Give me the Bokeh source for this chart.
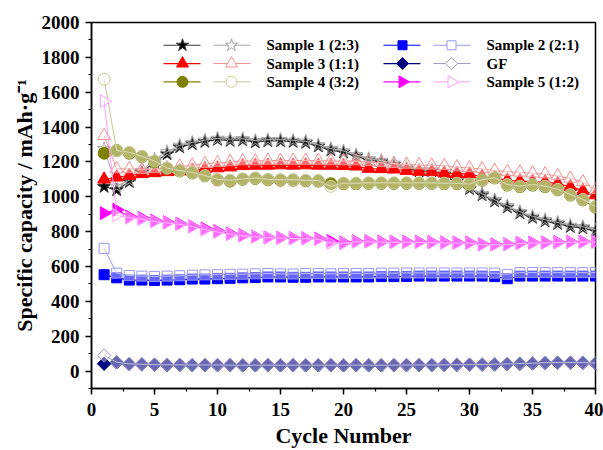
import math
from bokeh.plotting import figure
from bokeh.models import Range1d, SingleIntervalTicker, Label
from bokeh.embed import file_html
from bokeh.resources import INLINE

# ---------------- data ----------------
cycles = list(range(1, 41))

s1_filled = [1058, 1039, 1086, 1140, 1200, 1245, 1285, 1303, 1316, 1328,
             1322, 1325, 1313, 1320, 1320, 1316, 1310, 1290, 1268, 1255,
             1233, 1210, 1200, 1184, 1162, 1148, 1148, 1127, 1090, 1045,
             1010, 975, 940, 907, 880, 860, 845, 828, 820, 803]
s1_open = [1275, 1060, 1095, 1150, 1215, 1258, 1295, 1312, 1325, 1335,
           1330, 1333, 1322, 1328, 1328, 1324, 1318, 1298, 1276, 1263,
           1241, 1218, 1208, 1192, 1170, 1156, 1156, 1135, 1098, 1053,
           1018, 983, 948, 915, 888, 868, 853, 836, 828, 811]

s2_filled = [553, 535, 522, 522, 520, 522, 524, 528, 528, 530,
             532, 535, 537, 540, 540, 538, 538, 540, 540, 540,
             540, 540, 542, 542, 543, 545, 545, 545, 545, 545,
             545, 542, 530, 545, 545, 545, 545, 545, 545, 545]
s2_open = [704, 562, 548, 545, 543, 545, 547, 550, 552, 553,
           555, 556, 558, 560, 558, 557, 560, 560, 558, 560,
           560, 560, 562, 562, 563, 563, 563, 563, 563, 563,
           563, 562, 555, 565, 565, 565, 565, 565, 565, 565]

s3_filled = [1100, 1112, 1122, 1132, 1137, 1143, 1147, 1152, 1160, 1165,
             1170, 1178, 1180, 1180, 1182, 1180, 1182, 1180, 1180, 1178,
             1175, 1162, 1160, 1158, 1150, 1145, 1143, 1135, 1133, 1130,
             1115, 1108, 1095, 1090, 1087, 1085, 1075, 1058, 1035, 1010]
s3_open = [1350, 1160, 1160, 1155, 1160, 1165, 1175, 1180, 1190, 1195,
           1200, 1205, 1205, 1208, 1208, 1208, 1208, 1208, 1205, 1205,
           1205, 1200, 1195, 1190, 1185, 1182, 1180, 1178, 1170, 1165,
           1160, 1150, 1145, 1140, 1135, 1130, 1120, 1105, 1085, 1040]

gf_filled = [42, 50, 40, 38, 36, 35, 35, 34, 34, 34,
             33, 33, 33, 33, 33, 33, 33, 33, 33, 33,
             33, 33, 33, 33, 34, 34, 34, 35, 36, 36,
             37, 38, 40, 42, 44, 47, 48, 48, 48, 45]
gf_open = [89, 51, 41, 39, 37, 36, 36, 35, 35, 35,
           34, 34, 34, 34, 34, 34, 34, 34, 34, 34,
           34, 34, 34, 34, 35, 35, 35, 36, 37, 37,
           38, 39, 41, 43, 45, 48, 49, 49, 49, 46]

s4_filled = [1250, 1265, 1250, 1230, 1200, 1162, 1148, 1137, 1120, 1097,
             1090, 1100, 1105, 1097, 1095, 1095, 1092, 1090, 1075, 1075,
             1075, 1077, 1077, 1077, 1077, 1077, 1077, 1075, 1075, 1070,
             1095, 1108, 1067, 1058, 1067, 1058, 1040, 1010, 982, 940]
s4_open = [1675, 1265, 1255, 1232, 1205, 1165, 1150, 1140, 1122, 1100,
           1095, 1102, 1108, 1100, 1098, 1098, 1095, 1093, 1060, 1078,
           1078, 1080, 1080, 1080, 1080, 1080, 1080, 1078, 1078, 1073,
           1098, 1110, 1070, 1061, 1070, 1061, 1043, 1013, 985, 943]

s5_filled = [906, 925, 887, 878, 863, 854, 846, 831, 818, 803,
             789, 780, 772, 767, 765, 763, 762, 760, 746, 737,
             745, 745, 743, 742, 742, 742, 740, 738, 737, 737,
             728, 727, 728, 735, 737, 738, 740, 742, 743, 743]
s5_open = [1549, 895, 880, 872, 858, 850, 842, 828, 812, 798,
           785, 776, 770, 765, 763, 760, 760, 756, 735, 733,
           742, 742, 740, 739, 739, 739, 737, 735, 734, 734,
           725, 724, 725, 732, 734, 735, 737, 739, 740, 740]

labels = ["Sample 1 (2:3)", "Sample 3 (1:1)", "Sample 4 (3:2)",
          "Sample 2 (2:1)", "GF", "Sample 5 (1:2)"]

# ---------------- styles ----------------
styles = [
    dict(filled=s1_filled, open=s1_open, marker="star", size=14, angle=0,
         color="#000000", line="#3a3a3a", ocolor="#a8a8a8", ofill=0.12),
    dict(filled=s3_filled, open=s3_open, marker="triangle", size=13, angle=0,
         color="#ff0000", line="#ff0000", ocolor="#f09090", ofill=0.4),
    dict(filled=s4_filled, open=s4_open, marker="circle", size=12, angle=0,
         color="#808000", line="#808000", ocolor="#c8c89a", ofill=0.4),
    dict(filled=s2_filled, open=s2_open, marker="square", size=10, angle=0,
         color="#0000ff", line="#0000ff", ocolor="#9898f0", ofill=0.4),
    dict(filled=gf_filled, open=gf_open, marker="square", size=9.5, angle=math.pi / 4,
         color="#000080", line="#000080", ocolor="#9a9ac8", ofill=0.4),
    dict(filled=s5_filled, open=s5_open, marker="triangle", size=13, angle=-math.pi / 2,
         color="#ff00ff", line="#ff00ff", ocolor="#ff9cff", ofill=0.4),
]

FONT = "Liberation Serif"
X0, X1, Y0, Y1 = 0, 40, -100, 2000
W, H = 603, 450
BL, BR, BT, BB = 91, 8, 22, 58          # borders around the plot frame (px)
FL, FR, FT, FB = BL, W - BR, BT, H - BB  # frame edges (px)

p = figure(width=W, height=H, output_backend="svg", toolbar_location=None,
           x_range=Range1d(X0, X1), y_range=Range1d(Y0, Y1),
           min_border_left=BL, min_border_right=BR, min_border_top=BT,
           min_border_bottom=BB)
p.background_fill_color = "white"
p.border_fill_color = "white"
p.grid.visible = False
p.outline_line_color = "black"
p.outline_line_width = 1.5

p.xaxis.ticker = SingleIntervalTicker(interval=5, num_minor_ticks=2)
p.yaxis.ticker = SingleIntervalTicker(interval=200, num_minor_ticks=2)
for ax in (p.xaxis[0], p.yaxis[0]):
    ax.axis_line_width = 1.5
    ax.axis_line_color = "black"
    ax.major_tick_line_color = "black"
    ax.minor_tick_line_color = "black"
    ax.major_tick_line_width = 1.5
    ax.minor_tick_line_width = 1.2
    ax.major_tick_in = 0
    ax.major_tick_out = 6
    ax.minor_tick_in = 0
    ax.minor_tick_out = 3
    ax.major_label_text_font = FONT
    ax.major_label_text_font_style = "bold"
    ax.major_label_text_font_size = "19px"
    ax.major_label_text_color = "black"
    ax.axis_label_text_font = FONT
    ax.axis_label_text_font_style = "bold"
    ax.axis_label_text_font_size = "22px"
    ax.axis_label_text_color = "black"
p.xaxis.axis_label = "Cycle Number"
p.yaxis.axis_label = "Specific capacity / mAh·g⁻¹"
p.xaxis.major_label_standoff = 8
p.yaxis.major_label_standoff = 6
p.xaxis.axis_label_standoff = 4
p.yaxis.axis_label_standoff = 2

# ---------------- data series ----------------
for st in styles:
    p.line(cycles, st["filled"], line_color=st["line"], line_width=1.2)
    p.scatter(cycles, st["filled"], marker=st["marker"], size=st["size"],
              angle=st["angle"], fill_color=st["color"],
              line_color=st["line"], line_width=1)
    p.line(cycles, st["open"], line_color=st["ocolor"], line_width=1)
    p.scatter(cycles, st["open"], marker=st["marker"], size=st["size"],
              angle=st["angle"], fill_color="white", fill_alpha=st["ofill"],
              line_color=st["ocolor"], line_width=1)


# ---------------- legend (drawn by hand: two sample glyphs per entry) ----------------
def dx(px):
    return X0 + (px - FL) / (FR - FL) * (X1 - X0)


def dy(py):
    return Y0 + (FB - py) / (FB - FT) * (Y1 - Y0)


row_py = [45, 63.5, 82]
col_px = [163, 383]
for i, (st, lab) in enumerate(zip(styles, labels)):
    c = col_px[i // 3]
    y = dy(row_py[i % 3])
    # filled sample
    p.line([dx(c), dx(c + 37)], [y, y], line_color=st["line"], line_width=1.2)
    p.scatter([dx(c + 19)], [y], marker=st["marker"], size=st["size"] - 1,
              angle=st["angle"], fill_color=st["color"], line_color=st["line"],
              line_width=1)
    # open sample
    p.line([dx(c + 50), dx(c + 87)], [y, y], line_color=st["ocolor"], line_width=1)
    p.scatter([dx(c + 68)], [y], marker=st["marker"], size=st["size"] - 1,
              angle=st["angle"], fill_color="white", line_color=st["ocolor"],
              line_width=1)
    p.add_layout(Label(x=dx(c + 103), y=y, text=lab, text_font=FONT,
                       text_font_style="bold", text_font_size="15px",
                       text_color="black", text_baseline="middle",
                       text_align="left"))

open("out.html", "w").write(file_html(p, INLINE))
